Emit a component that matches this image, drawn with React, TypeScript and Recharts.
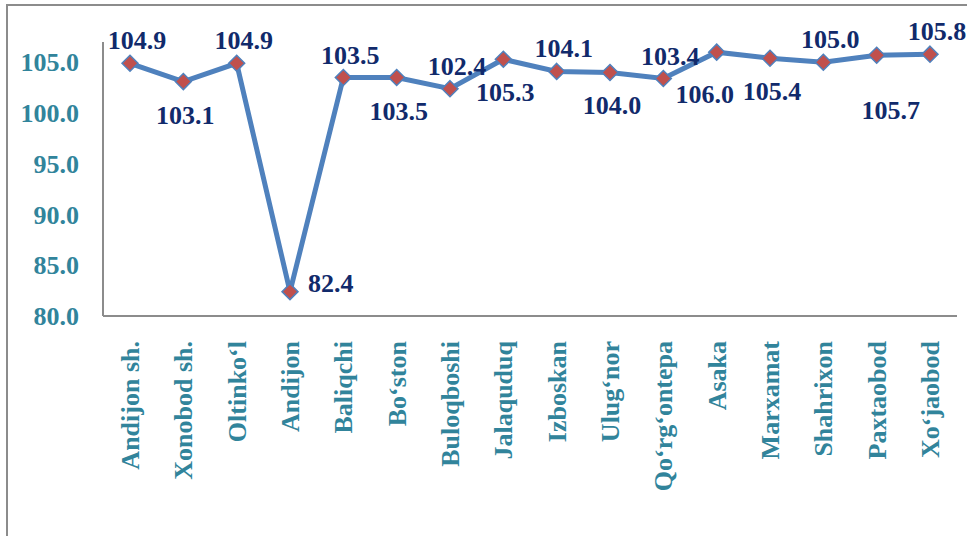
import { LineChart, Line, XAxis, YAxis } from 'recharts';

const districts = [
	'Andijon sh.', 'Xonobod sh.', 'Oltinko‘l', 'Andijon', 'Baliqchi', 'Bo‘ston', 'Buloqboshi', 'Jalaquduq',
	'Izboskan', 'Ulug‘nor', 'Qo‘rg‘ontepa', 'Asaka', 'Marxamat', 'Shahrixon', 'Paxtaobod', 'Xo‘jaobod',
];
const growth = [104.9, 103.1, 104.9, 82.4, 103.5, 103.5, 102.4, 105.3, 104.1, 104.0, 103.4, 106.0, 105.4, 105.0, 105.7, 105.8];
const yTicks = [80, 85, 90, 95, 100, 105];

// where each value label sits relative to its point
const labelSide = ['top', 'bottom', 'top', 'right', 'top', 'bottom', 'top', 'bottom', 'top', 'bottom', 'top', 'bottomLeft', 'bottom', 'top', 'bottomFar', 'top'];

const data = districts.map((name, i) => ({ name, value: growth[i] }));

const FONT = "'Liberation Serif', 'Times New Roman', 'DejaVu Serif', serif";
const TEAL = '#31849B';
const NAVY = '#112A6B';
const textStyle = { fontFamily: FONT, fontWeight: 700 };

const Diamond = (props: any) => {
	const { cx, cy } = props;
	if (cx == null || cy == null) return null;
	const r = 8;
	return (
		<polygon
			points={`${cx},${cy - r} ${cx + r},${cy} ${cx},${cy + r} ${cx - r},${cy}`}
			fill="#C0504D"
			stroke="#4F81BD"
			strokeWidth={1.5}
		/>
	);
};

const ValueLabel = (props: any) => {
	const { x, y, value, index } = props;
	const side = labelSide[index];
	let tx = x + 7;
	let ty = y - 14;
	let anchor = 'middle';
	if (side === 'bottom') {
		tx = x + 2;
		ty = y + 42;
	}
	if (side === 'bottomLeft') {
		tx = x - 12;
		ty = y + 51;
	}
	if (side === 'bottomFar') {
		tx = x + 14;
		ty = y + 64;
	}
	if (side === 'right') {
		tx = x + 18;
		ty = y + 0;
		anchor = 'start';
	}
	return (
		<text x={tx} y={ty} textAnchor={anchor} fill={NAVY} fontSize={26} style={textStyle}>
			{Number(value).toFixed(1)}
		</text>
	);
};

const CategoryTick = (props: any) => {
	const { x, y, payload } = props;
	return (
		<text
			transform={`translate(${x},${y + 17}) rotate(-90)`}
			textAnchor="end"
			dy="0.35em"
			fill={TEAL}
			fontSize={26}
			style={textStyle}
		>
			{payload.value}
		</text>
	);
};

const YTick = (props: any) => {
	const { x, y, payload } = props;
	return (
		<text x={x - 22} y={y} dy="0.35em" textAnchor="end" fill={TEAL} fontSize={26} style={textStyle}>
			{Number(payload.value).toFixed(1)}
		</text>
	);
};

const App = () => {
	return (
		<div style={{ position: 'relative', width: 967, height: 536, overflow: 'hidden', background: '#fff' }}>
			<style>{'body{margin:0}'}</style>
			<div
				style={{
					position: 'absolute',
					left: 6,
					top: 4,
					width: 970,
					height: 560,
					border: '2px solid #8C8C8C',
					boxSizing: 'border-box',
				}}
			/>
			<div style={{ position: 'absolute', left: 0, top: 0 }}>
				<LineChart width={967} height={536} data={data} margin={{ top: 42, right: 10, left: 8, bottom: 20 }}>
					<XAxis
						dataKey="name"
						interval={0}
						height={200}
						padding={{ left: 27, right: 27 }}
						tickLine={false}
						axisLine={{ stroke: '#8C8C8C', strokeWidth: 2 }}
						tick={<CategoryTick />}
					/>
					<YAxis
						width={95}
						domain={[80, 107]}
						ticks={yTicks}
						interval={0}
						tickLine={false}
						tickSize={0}
						axisLine={{ stroke: '#8C8C8C', strokeWidth: 2 }}
						tick={<YTick />}
					/>
					<Line
						type="linear"
						dataKey="value"
						stroke="#4F81BD"
						strokeWidth={5}
						dot={<Diamond />}
						activeDot={false}
						label={<ValueLabel />}
						isAnimationActive={false}
					/>
				</LineChart>
			</div>
		</div>
	);
};

export default App;
